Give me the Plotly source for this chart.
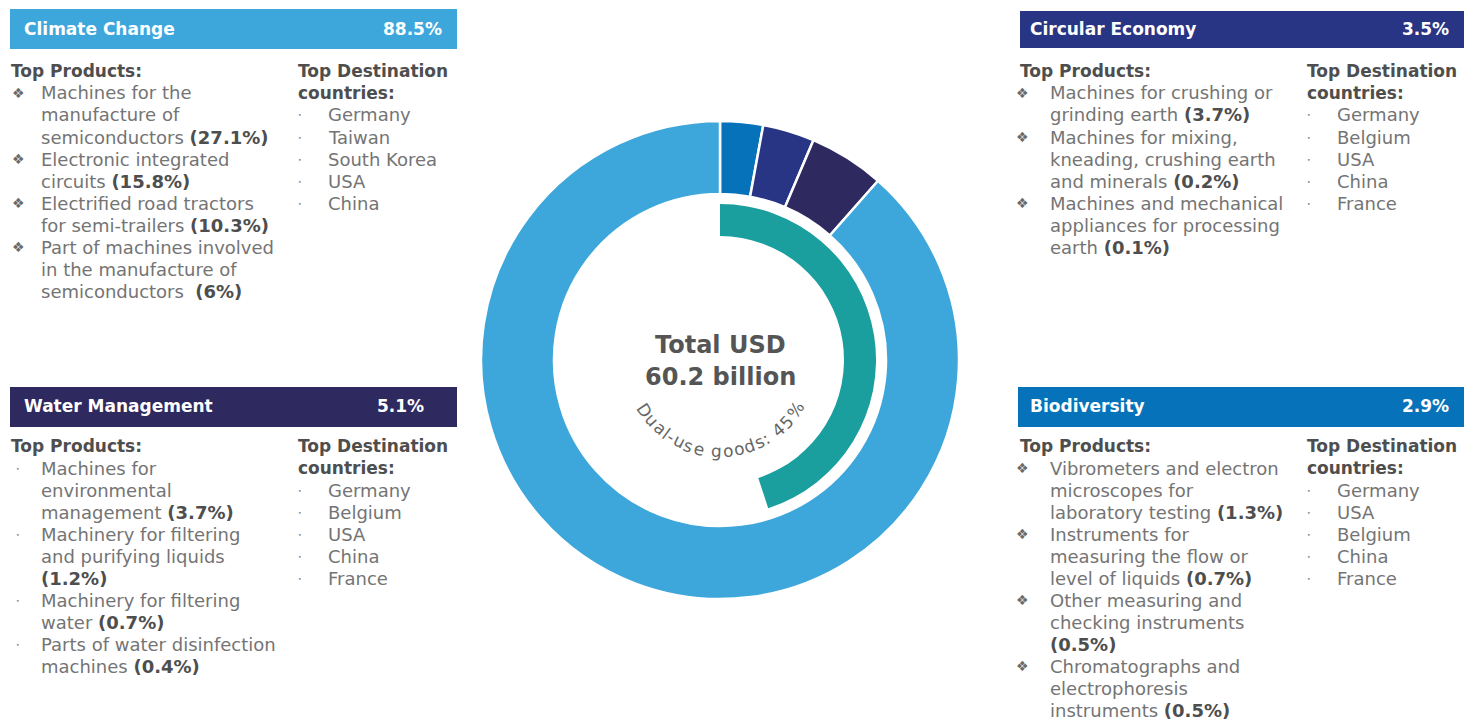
import math
import plotly.graph_objects as go

W, H = 1464, 720
FONT = "DejaVu Sans"

# ---------------- data ----------------
ring_categories = ["Biodiversity", "Circular Economy", "Water Management", "Climate Change"]
ring_shares = [2.9, 3.5, 5.1, 88.5]
ring_colors = ["#0672B9", "#283584", "#2E2A60", "#3DA7DC"]

dual_use_share = 45
dual_use_label = "Dual-use goods: 45%"
total_line1 = "Total USD"
total_line2 = "60.2 billion"

panel_titles = ["Climate Change", "Circular Economy", "Water Management", "Biodiversity"]
panel_shares = ["88.5%", "3.5%", "5.1%", "2.9%"]

climate_products = [
    (["Machines for the", "manufacture of", "semiconductors"], "(27.1%)"),
    (["Electronic integrated", "circuits"], "(15.8%)"),
    (["Electrified road tractors", "for semi-trailers"], "(10.3%)"),
    (["Part of machines involved", "in the manufacture of", "semiconductors "], "(6%)"),
]
circular_products = [
    (["Machines for crushing or", "grinding earth"], "(3.7%)"),
    (["Machines for mixing,", "kneading, crushing earth", "and minerals"], "(0.2%)"),
    (["Machines and mechanical", "appliances for processing", "earth"], "(0.1%)"),
]
water_products = [
    (["Machines for", "environmental", "management"], "(3.7%)"),
    (["Machinery for filtering", "and purifying liquids", ""], "(1.2%)"),
    (["Machinery for filtering", "water"], "(0.7%)"),
    (["Parts of water disinfection", "machines"], "(0.4%)"),
]
bio_products = [
    (["Vibrometers and electron", "microscopes for", "laboratory testing"], "(1.3%)"),
    (["Instruments for", "measuring the flow or", "level of liquids"], "(0.7%)"),
    (["Other measuring and", "checking instruments", ""], "(0.5%)"),
    (["Chromatographs and", "electrophoresis", "instruments"], "(0.5%)"),
]

climate_dest = ["Germany", "Taiwan", "South Korea", "USA", "China"]
circular_dest = ["Germany", "Belgium", "USA", "China", "France"]
water_dest = ["Germany", "Belgium", "USA", "China", "France"]
bio_dest = ["Germany", "USA", "Belgium", "China", "France"]

panel_products = [climate_products, circular_products, water_products, bio_products]
panel_dests = [climate_dest, circular_dest, water_dest, bio_dest]
panel_bullets = ["❖", "❖", "•", "❖"]

# ---------------- layout geometry (window pixels) ----------------
panel_geo = [
    dict(box=(10, 457, 9, 49), ty=29, tx=23, sx=443, hy=71, px=10, bx=18, tx2=40, dx=297, dbx=300, dtx=327),
    dict(box=(1020, 1464, 11, 48), ty=29, tx=1029, sx=1450, hy=71, px=1019, bx=1022, tx2=1049, dx=1306, dbx=1309, dtx=1336),
    dict(box=(10, 457, 387, 427), ty=406, tx=23, sx=425, hy=446, px=10, bx=18, tx2=40, dx=297, dbx=300, dtx=327),
    dict(box=(1018, 1464, 387, 427), ty=406, tx=1029, sx=1450, hy=446, px=1019, bx=1022, tx2=1049, dx=1306, dbx=1309, dtx=1336),
]
LH = 22
BODY = "#747474"
HEAD = "#4E4E4E"
FS = 18
HFS = 17


def X(p):
    return p / W


def Y(p):
    return 1 - p / H


annotations = []
shapes = []


def txt(x, y, text, size=FS, color=BODY, anchor="left", angle=0):
    annotations.append(dict(
        x=X(x), y=Y(y), xref="paper", yref="paper", text=text, showarrow=False,
        xanchor=anchor, yanchor="middle", textangle=angle, borderpad=0,
        font=dict(family=FONT, size=size, color=color)))


for i, g in enumerate(panel_geo):
    x0, x1, y0, y1 = g["box"]
    col = ring_colors[ring_categories.index(panel_titles[i])]
    shapes.append(dict(type="rect", xref="paper", yref="paper",
                       x0=X(x0), x1=X(x1), y0=Y(y1), y1=Y(y0),
                       fillcolor=col, line=dict(width=0), layer="below"))
    txt(g["tx"], g["ty"], "<b>%s</b>" % panel_titles[i], size=HFS, color="white")
    txt(g["sx"], g["ty"], "<b>%s</b>" % panel_shares[i], size=HFS, color="white", anchor="right")

    # products column
    y = g["hy"]
    txt(g["px"], y, "<b>Top Products:</b>", size=HFS, color=HEAD)
    y += LH
    for lines, pct in panel_products[i]:
        if panel_bullets[i] == "❖":
            txt(g["bx"], y, panel_bullets[i], size=14, color="#6A6A6A", anchor="center")
        else:
            txt(g["bx"], y, panel_bullets[i], size=6, color="#7A7A7A", anchor="center")
        for k, ln in enumerate(lines):
            t = ln
            if k == len(lines) - 1:
                bold = "<span style='color:%s'><b>%s</b></span>" % (HEAD, pct)
                t = (ln + " " + bold) if ln else bold
            txt(g["tx2"], y, t)
            y += LH

    # destinations column
    y = g["hy"]
    txt(g["dx"], y, "<b>Top Destination</b>", size=HFS, color=HEAD)
    y += LH
    txt(g["dx"], y, "<b>countries:</b>", size=HFS, color=HEAD)
    y += LH
    for d in panel_dests[i]:
        txt(g["dbx"], y, "•", size=6, color="#7A7A7A", anchor="center")
        txt(g["dtx"], y, d)
        y += LH

# ---------------- donut ----------------
CX, CY = 720, 360
R_OUT, R_IN = 239, 166
T_OUT, T_IN = 156, 124

fig = go.Figure()
fig.add_trace(go.Pie(
    labels=ring_categories, values=ring_shares, sort=False, direction="clockwise",
    rotation=0, hole=R_IN / R_OUT, textinfo="none", hoverinfo="label+percent",
    marker=dict(colors=ring_colors, line=dict(color="white", width=2.5)),
    domain=dict(x=[X(CX - R_OUT), X(CX + R_OUT)], y=[Y(CY + R_OUT), Y(CY - R_OUT)]),
    showlegend=False))
fig.add_trace(go.Pie(
    labels=["Dual-use goods", "Other"], values=[dual_use_share, 100 - dual_use_share],
    sort=False, direction="clockwise", rotation=0, hole=T_IN / T_OUT,
    textinfo="none", hoverinfo="label+value",
    marker=dict(colors=["#1A9E9E", "rgba(0,0,0,0)"], line=dict(width=0)),
    domain=dict(x=[X(CX - T_OUT), X(CX + T_OUT)], y=[Y(CY + T_OUT), Y(CY - T_OUT)]),
    showlegend=False))

txt(CX, 345, "<b>%s</b>" % total_line1, size=24, color="#555555", anchor="center")
txt(CX, 377, "<b>%s</b>" % total_line2, size=24, color="#555555", anchor="center")

# curved label along the bottom of the inner circle
cw = {"D": .770, "u": .634, "a": .613, "l": .278, "-": .361, "s": .521, "e": .615, " ": .318,
      "g": .635, "o": .612, "d": .635, ":": .337, "4": .636, "5": .636, "%": .950}
widths = [cw.get(c, .6) for c in dual_use_label]
tot = sum(widths)
a0, a1 = -61.0, 62.0
r_txt = 91
acc = 0
for c, w in zip(dual_use_label, widths):
    mid = (acc + w / 2) / tot
    acc += w
    if c == " ":
        continue
    phi = a0 + (a1 - a0) * mid
    rad = math.radians(phi)
    x = CX + r_txt * math.sin(rad)
    y = CY + r_txt * math.cos(rad)
    txt(x, y, c, size=17, color="#666666", anchor="center", angle=-phi)

fig.update_layout(
    width=W, height=H, margin=dict(l=0, r=0, t=0, b=0),
    paper_bgcolor="white", plot_bgcolor="white",
    annotations=annotations, shapes=shapes,
    font=dict(family=FONT),
)
fig.write_html(
    "out.html",
    config={"displayModeBar": False},
    post_script="document.body.style.margin='0';document.body.style.overflow='hidden';",
)
